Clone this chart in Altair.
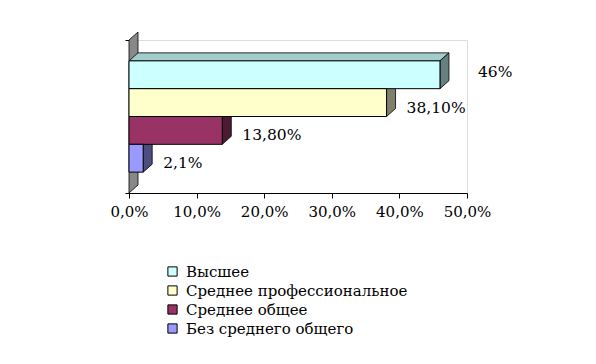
import altair as alt
import pandas as pd

categories = ["Высшее", "Среднее профессиональное", "Среднее общее", "Без среднего общего"]
values = [46.0, 38.1, 13.8, 2.1]
labels = ["46%", "38,10%", "13,80%", "2,1%"]
front_colors = ["#CCFFFF", "#FFFFCC", "#993366", "#9999FF"]
top_colors = ["#A3CCCC", "#CCCCA3", "#7A2952", "#7A7ACC"]
side_colors = ["#668080", "#80806A", "#4D1A33", "#4D4D80"]
x_ticks = [0, 10, 20, 30, 40, 50]

W, H = 338, 153
X_MAX, Y_MAX = 50.0, 5.5
DX = 9 / (W / X_MAX)      # depth offset in % units
DY = 8 / (H / Y_MAX)      # depth offset in row units
ROW0 = 0.75

front_rows, side_rows, top_rows = [], [], []
for i, (c, v) in enumerate(zip(categories, values)):
    t, b = ROW0 + i, ROW0 + i + 1
    front_rows.append({"cat": c, "v": v, "top": t, "bot": b, "mid": (t + b) / 2, "label": labels[i], "i": i})
    side_rows.append({"cat": c, "x": v, "y": t, "y2": b, "col": side_colors[i]})
    side_rows.append({"cat": c, "x": v + DX, "y": t - DY, "y2": b - DY, "col": side_colors[i]})
    top_rows.append({"cat": c, "y": t, "x": 0, "x2": v, "col": top_colors[i]})
    top_rows.append({"cat": c, "y": t - DY, "x": DX, "x2": v + DX, "col": top_colors[i]})

front = pd.DataFrame(front_rows)
side = pd.DataFrame(side_rows)
top = pd.DataFrame(top_rows)
wall = pd.DataFrame([
    {"x": 0, "y": 0, "y2": Y_MAX},
    {"x": DX, "y": -DY, "y2": Y_MAX - DY},
])

xs = alt.Scale(domain=[0, X_MAX], nice=False, zero=False)
ys = alt.Scale(domain=[0, Y_MAX], reverse=True, nice=False, zero=False)

FONT = "DejaVu Serif"

wall_l = alt.Chart(wall).mark_area(orient="vertical", color="#888888", stroke="black", strokeWidth=0.8).encode(
    x=alt.X("x:Q", scale=xs, axis=alt.Axis(
        values=x_ticks, title=None, grid=False, domainColor="black", tickColor="black",
        tickSize=5, labelFont=FONT, labelFontSize=15, labelColor="black", labelPadding=6,
        labelOverlap=False, labelFlush=False,
        labelExpr="replace(format(datum.value, '.1f'), '.', ',') + '%'")),
    y=alt.Y("y:Q", scale=ys, axis=alt.Axis(
        values=[0, Y_MAX], labels=False, title=None, grid=False, domainColor="black",
        tickColor="black", tickSize=4)),
    y2="y2:Q",
)

top_l = alt.Chart(top).mark_area(orient="horizontal", stroke="black", strokeWidth=0.8).encode(
    y=alt.Y("y:Q", scale=ys),
    x=alt.X("x:Q", scale=xs),
    x2="x2:Q",
    detail="cat:N",
    fill=alt.Fill("col:N", scale=None),
)

side_l = alt.Chart(side).mark_area(orient="vertical", stroke="black", strokeWidth=0.8).encode(
    x=alt.X("x:Q", scale=xs),
    y=alt.Y("y:Q", scale=ys),
    y2="y2:Q",
    detail="cat:N",
    fill=alt.Fill("col:N", scale=None),
)

front_l = alt.Chart(front).mark_bar(stroke="black", strokeWidth=1, cornerRadius=0).encode(
    x=alt.X("x0:Q", scale=xs),
    x2="v:Q",
    y=alt.Y("top:Q", scale=ys),
    y2="bot:Q",
    fill=alt.Fill("cat:N", scale=alt.Scale(domain=categories, range=front_colors),
                  sort=categories,
                  legend=alt.Legend(title=None, orient="none", legendX=36, legendY=224,
                                    symbolType="square", symbolSize=85,
                                    symbolStrokeColor="black", symbolStrokeWidth=1,
                                    labelFont=FONT, labelFontSize=15, labelColor="black",
                                    labelOffset=6, rowPadding=3, labelLimit=0)),
).transform_calculate(x0="0")

text_first = alt.Chart(front).transform_filter("datum.i == 0").transform_calculate(
    xl=f"datum.v + {DX}").mark_text(
    align="left", baseline="middle", font=FONT, fontSize=15.5, color="black", dx=29, dy=-3).encode(
    x=alt.X("xl:Q", scale=xs), y=alt.Y("mid:Q", scale=ys), text="label:N")

text_rest = alt.Chart(front).transform_filter("datum.i > 0").transform_calculate(
    xl=f"datum.v + {DX}").mark_text(
    align="left", baseline="middle", font=FONT, fontSize=15.5, color="black", dx=11, dy=5).encode(
    x=alt.X("xl:Q", scale=xs), y=alt.Y("mid:Q", scale=ys), text="label:N")

chart = alt.layer(wall_l, top_l, side_l, front_l, text_first, text_rest).properties(
    width=W, height=H,
    autosize=alt.AutoSizeParams(type="none"),
    padding={"left": 129, "top": 40, "right": 596 - 129 - W, "bottom": 364 - 40 - H},
).configure_view(stroke=None).configure(background="white")

chart.save("out.html", embed_options={"renderer": "svg", "actions": False})
